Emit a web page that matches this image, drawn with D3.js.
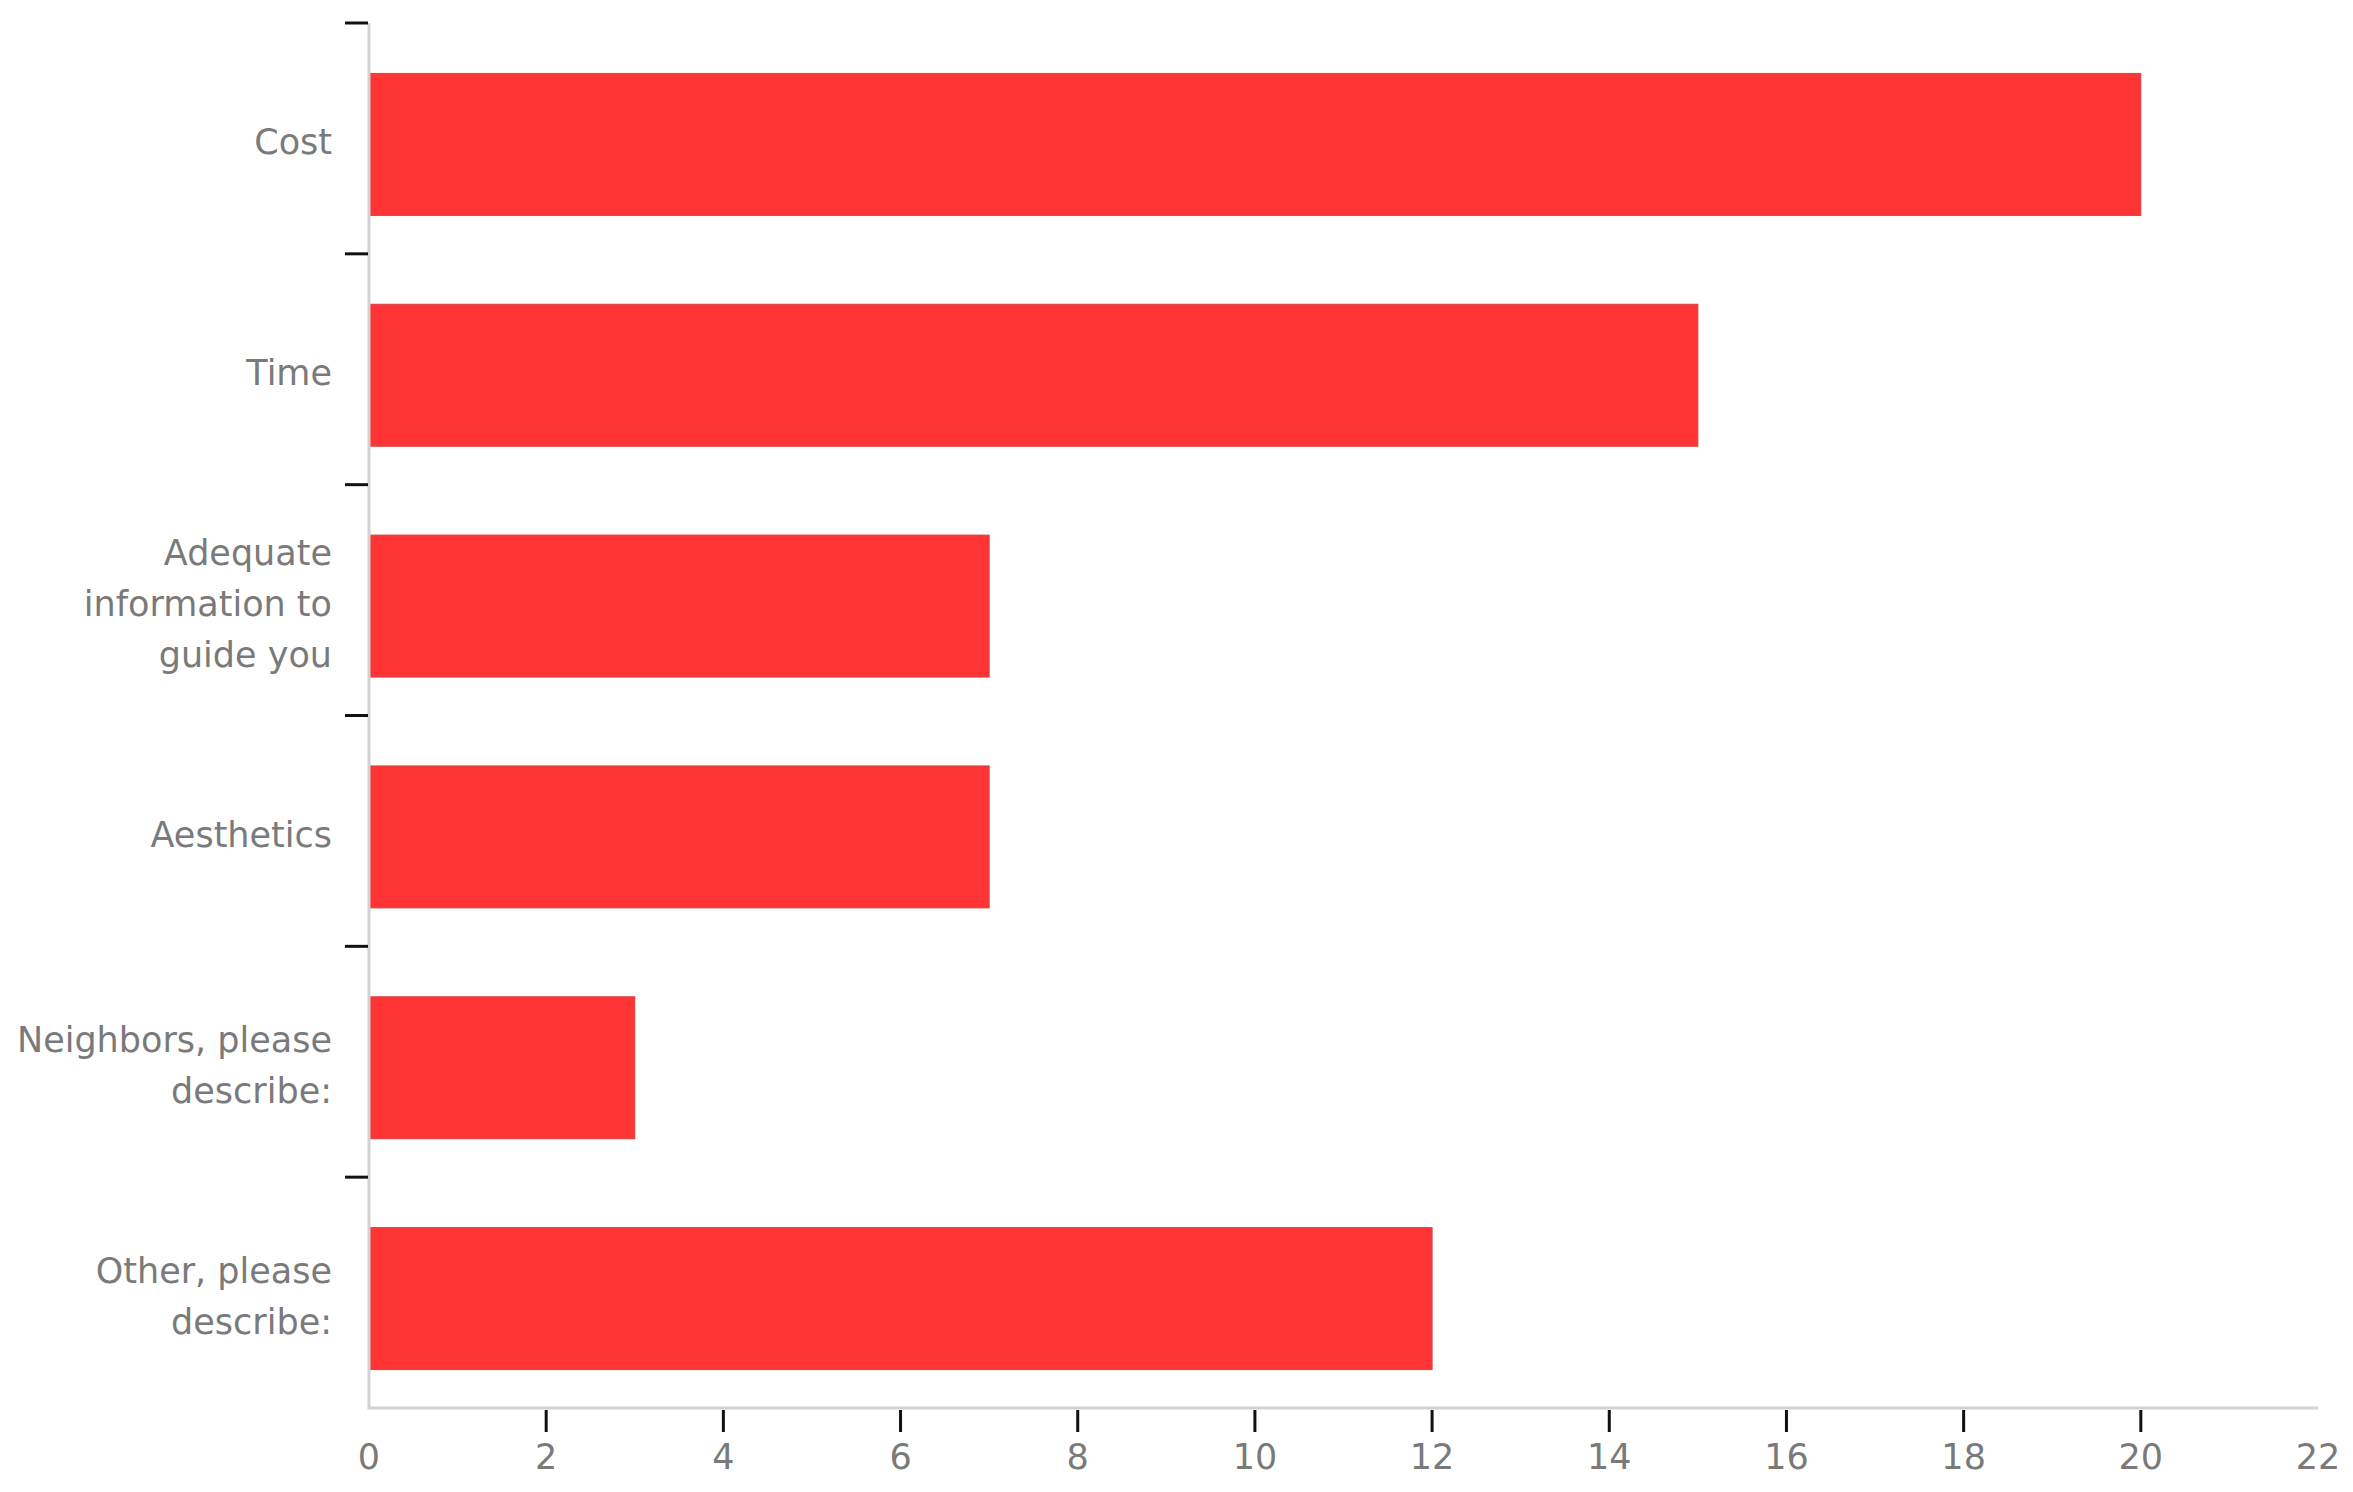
<!DOCTYPE html>
<html>
<head>
<meta charset="utf-8">
<script src="https://cdn.jsdelivr.net/npm/d3@7"></script>
<style>
  html, body { margin: 0; padding: 0; background: #fff; }
  svg text { font-family: 'DejaVu Sans', sans-serif; fill: #7a7a7a; }
</style>
</head>
<body>
<svg id="chart" width="2353" height="1492"></svg>
<script>
// categories, top to bottom; '\n' marks the line breaks of the tick label
const categories = [
  'Cost',
  'Time',
  'Adequate\ninformation to\nguide you',
  'Aesthetics',
  'Neighbors, please\ndescribe:',
  'Other, please\ndescribe:',
];
const counts = [20, 15, 7, 7, 3, 12];
const xTickValues = [0, 2, 4, 6, 8, 10, 12, 14, 16, 18, 20, 22];

const data = categories.map((c, i) => ({ name: c, value: counts[i] }));

const svg = d3.select('#chart');
const plotLeft = 369, plotRight = 2318, plotTop = 23, plotBottom = 1408;

const x = d3.scaleLinear()
  .domain([0, 22])
  .range([plotLeft, plotRight]);

// band edges, used for the y ticks
const yEdge = d3.scaleBand()
  .domain(categories)
  .range([plotTop, plotBottom])
  .padding(0);

// bars sit a little below the band centre, as in the original
const yBar = d3.scaleBand()
  .domain(categories)
  .range([plotTop + 6, plotBottom + 6])
  .paddingInner(0.385)
  .paddingOuter(0.1925);

// bars
svg.append('g')
  .attr('class', 'bars')
  .selectAll('rect')
  .data(data)
  .enter().append('rect')
  .attr('x', x(0))
  .attr('y', d => yBar(d.name))
  .attr('width', d => x(d.value) - x(0))
  .attr('height', yBar.bandwidth())
  .attr('fill', '#ff3434')
  .attr('stroke', '#d94040')
  .attr('stroke-width', 1);

// axis lines
svg.append('line')
  .attr('x1', plotLeft).attr('x2', plotLeft)
  .attr('y1', plotTop).attr('y2', plotBottom)
  .attr('stroke', '#d2d2d2')
  .attr('stroke-width', 3);

svg.append('line')
  .attr('x1', plotLeft - 1.5).attr('x2', plotRight)
  .attr('y1', plotBottom).attr('y2', plotBottom)
  .attr('stroke', '#d2d2d2')
  .attr('stroke-width', 3);

// y ticks at the top of each band
svg.append('g')
  .selectAll('line')
  .data(categories)
  .enter().append('line')
  .attr('x1', plotLeft - 24)
  .attr('x2', plotLeft - 1)
  .attr('y1', d => yEdge(d))
  .attr('y2', d => yEdge(d))
  .attr('stroke', '#111')
  .attr('stroke-width', 3);

// y labels
const lineHeight = 51;
svg.append('g')
  .selectAll('text')
  .data(data)
  .enter().append('text')
  .attr('text-anchor', 'end')
  .attr('font-size', 35)
  .each(function(d) {
    const lines = d.name.split('\n');
    const cy = yBar(d.name) + yBar.bandwidth() / 2;
    const first = cy - (lines.length - 1) * lineHeight / 2 + 10;
    d3.select(this).selectAll('tspan')
      .data(lines)
      .enter().append('tspan')
      .attr('x', plotLeft - 37)
      .attr('y', (l, i) => first + i * lineHeight)
      .text(l => l);
  });

// x ticks (not at the two ends)
svg.append('g')
  .selectAll('line')
  .data(xTickValues.filter(v => v > 0 && v < 22))
  .enter().append('line')
  .attr('x1', d => x(d)).attr('x2', d => x(d))
  .attr('y1', plotBottom + 2)
  .attr('y2', plotBottom + 24)
  .attr('stroke', '#111')
  .attr('stroke-width', 3);

// x labels
svg.append('g')
  .selectAll('text')
  .data(xTickValues)
  .enter().append('text')
  .attr('x', d => x(d))
  .attr('y', 1469)
  .attr('text-anchor', 'middle')
  .attr('font-size', 35)
  .text(d => d);
</script>
</body>
</html>
